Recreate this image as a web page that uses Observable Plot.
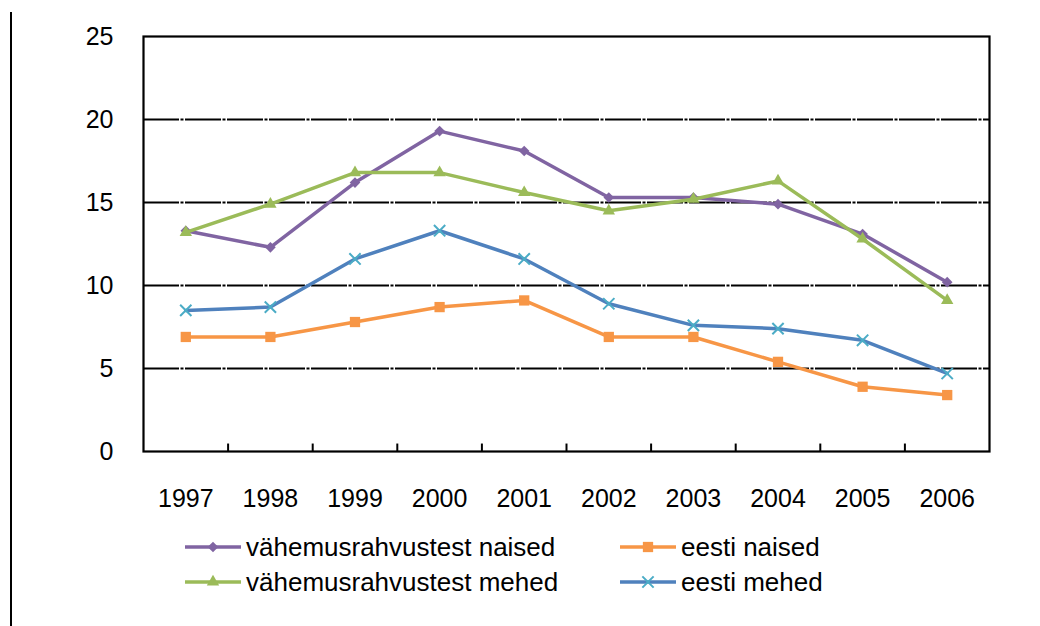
<!DOCTYPE html>
<html><head><meta charset="utf-8">
<script src="https://cdn.jsdelivr.net/npm/d3@7"></script>
<script src="https://cdn.jsdelivr.net/npm/@observablehq/plot@0.6"></script>
<style>
body{margin:0;background:#fff;font-family:"Liberation Sans",Arial,sans-serif;}
#wrap{position:relative;width:1040px;height:626px;overflow:hidden;background:#fff;}
#vline{position:absolute;left:10px;top:12px;width:2px;height:614px;background:#000;}
#chart{position:absolute;left:0;top:0;}
.item{position:absolute;display:flex;align-items:center;font-size:26px;color:#000;height:34px;white-space:nowrap;}
.item svg{margin-right:5px;}
</style></head>
<body><div id="wrap"><div id="vline"></div><div id="chart"></div><div id="legend"></div></div>
<script>
const years = [1997, 1998, 1999, 2000, 2001, 2002, 2003, 2004, 2005, 2006];
const vahemusNaised = [13.3, 12.3, 16.2, 19.3, 18.1, 15.3, 15.3, 14.9, 13.1, 10.2];
const eestiNaised   = [6.9, 6.9, 7.8, 8.7, 9.1, 6.9, 6.9, 5.4, 3.9, 3.4];
const vahemusMehed  = [13.2, 14.9, 16.8, 16.8, 15.6, 14.5, 15.2, 16.3, 12.8, 9.1];
const eestiMehed    = [8.5, 8.7, 11.6, 13.3, 11.6, 8.9, 7.6, 7.4, 6.7, 4.7];
const yTicks = [0, 5, 10, 15, 20, 25];
const seriesNames = ["vähemusrahvustest naised", "eesti naised", "vähemusrahvustest mehed", "eesti mehed"];

const seriesDefs = [
  {name: seriesNames[0], values: vahemusNaised, color: "#8064a2", symbol: "diamond2", mfill: "#8064a2", mstroke: "none", r: 4.8, d3sym: d3.symbolDiamond2},
  {name: seriesNames[1], values: eestiNaised, color: "#f79646", symbol: "square", mfill: "#f79646", mstroke: "none", r: 5.8, d3sym: d3.symbolSquare},
  {name: seriesNames[2], values: vahemusMehed, color: "#9bbb59", symbol: "triangle", mfill: "#9bbb59", mstroke: "none", r: 4.6, d3sym: d3.symbolTriangle},
  {name: seriesNames[3], values: eestiMehed, color: "#4f81bd", symbol: "times", mfill: "none", mstroke: "#4bacc6", r: 5.2, d3sym: d3.symbolTimes}
];

const boundaries = years.slice(0, -1).map(y => y + 0.5);

const marks = [
  Plot.ruleY(yTicks.filter(t => t > 0 && t < 25), {stroke: "#000", strokeWidth: 2.2, strokeDasharray: "36,1.5,3,1.5"}),
  Plot.ruleX(boundaries, {y1: 0, y2: 0.45, stroke: "#000", strokeWidth: 2}),
  Plot.frame({stroke: "#000", strokeWidth: 2.2}),
  Plot.axisY({ticks: yTicks, tickSize: 0, tickPadding: 30, tickFormat: d => String(d), label: null}),
  Plot.axisX({ticks: years, tickSize: 0, tickPadding: 38, tickFormat: d => String(d), label: null})
];
for (const s of seriesDefs) {
  const data = years.map((y, i) => ({year: y, value: s.values[i]}));
  marks.push(Plot.line(data, {x: "year", y: "value", stroke: s.color, strokeWidth: 3.5}));
  marks.push(Plot.dot(data, {x: "year", y: "value", symbol: s.symbol, r: s.r, fill: s.mfill, stroke: s.mstroke, strokeWidth: 2}));
}

const chart = Plot.plot({
  width: 1040,
  height: 520,
  marginLeft: 143,
  marginRight: 51,
  marginTop: 36,
  marginBottom: 69,
  x: {type: "linear", domain: [1996.5, 2006.5], label: null},
  y: {domain: [0, 25], label: null},
  style: {fontSize: "25px", fontFamily: "'Liberation Sans', Arial, sans-serif", color: "#000", background: "transparent", overflow: "visible"},
  marks
});
document.getElementById("chart").appendChild(chart);

// Legend
const legend = document.getElementById("legend");
const positions = [
  {left: 185, top: 530}, {left: 620, top: 530},
  {left: 185, top: 565}, {left: 620, top: 565}
];
seriesDefs.forEach((s, i) => {
  const div = document.createElement("div");
  div.className = "item";
  div.style.left = positions[i].left + "px";
  div.style.top = positions[i].top + "px";
  const svg = d3.create("svg").attr("width", 56).attr("height", 20);
  svg.append("line").attr("x1", 0).attr("x2", 56).attr("y1", 10).attr("y2", 10)
    .attr("stroke", s.color).attr("stroke-width", 3.5);
  svg.append("path").attr("transform", "translate(28,10)")
    .attr("d", d3.symbol(s.d3sym, Math.PI * s.r * s.r)())
    .attr("fill", s.mfill).attr("stroke", s.mstroke).attr("stroke-width", 2);
  div.appendChild(svg.node());
  const span = document.createElement("span");
  span.textContent = s.name;
  div.appendChild(span);
  legend.appendChild(div);
});
</script>
</body></html>
